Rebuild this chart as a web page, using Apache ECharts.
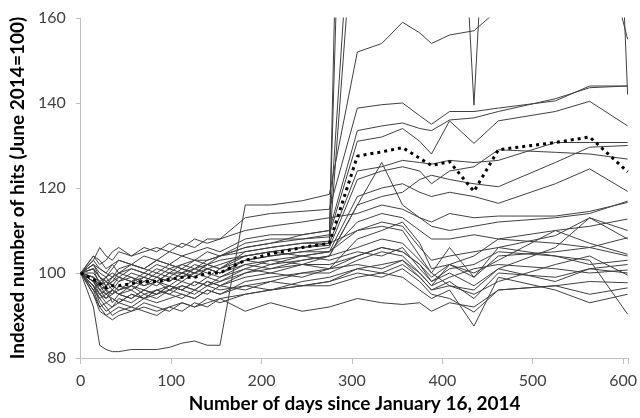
<!DOCTYPE html>
<html>
<head>
<meta charset="utf-8">
<script src="https://cdn.jsdelivr.net/npm/echarts@6/dist/echarts.min.js"></script>
<style>html,body{margin:0;padding:0;background:#fff}#c{width:640px;height:418px}</style>
</head>
<body>
<div id="c"></div>
<script>
var days = [0,14,21,28,35,42,56,70,84,98,112,126,140,154,182,210,245,275,306,333,356,375,388,408,435,462,525,563,605];
var xTicks = [0,100,200,300,400,500,600];
var yTicks = [80,100,120,140,160];

var s01 = [100,92,83,82,81.5,81.5,82,82,82,82.5,83.5,84,83,83,116,116,117,118.5,152,154,159,156.5,154,156,157,162,175,190,155];
var s02 = [100,101,99,98,99,100,101,100,102,101,102,103,103,104,106,107,108,108.5,330,340,335,345,350,340,355,360,350,360,142];
var s03 = [100,97,95,96,97,96,98,99,98,100,100,101,102,101,105,106,107,107.5,400,390,410,380,300,245,139.5,245,300,320,330];
var s04 = [100,103,101,100,102,103,102,104,103,105,104,105,106,105,108,109,109,110,210,230,220,240,235,250,240,260,270,280,290];
var s05 = [100,99,97,98,96,98,99,98,100,99,101,100,102,103,104,105,106,106.5,195,205,200,215,210,220,215,225,230,235,240];
var s06 = [100,104,102,103,105,106,104,105,106,105,107,106,108,108,113,114,114.5,115,138.8,139.6,140,137,135,138,138,138.8,140.5,144,144];
var s07 = [100,98,96,97,99,98,100,99,101,100,102,101,103,104,106,107,109,110,133.5,134.6,135.3,134,133.5,136,136.5,138,141,143.6,144];
var s08 = [100,102,100,99,101,103,102,101,103,102,104,103,105,104,107,108,108,109,131,132,134,131,128,135.8,130.5,135.8,138,140.4,134.6];
var s09 = [100,96,94,95,96,95,97,96,98,97,99,100,99,101,104,105,106,107,124,125,126.5,126,125.6,126.5,126,126.5,130.7,130.7,130.7];
var s10 = [100,99,96,94,95,97,96,98,97,99,98,100,101,100,103,104,105,106,122,124,125,124,121,124,125,129,128.4,128,126.8];
var s11 = [100,95,92,93,94,93,95,94,96,95,97,96,98,97,100,102,103,104,116,118,119,122,123,122,121,120.3,126,129.6,130];
var s12 = [100,97,95,94,96,95,94,96,95,97,96,98,97,99,101,103,104,105,118,120,121,119,118,119,118,116.4,121,124.5,119.2];
var s13 = [100,100,98,97,98,99,98,97,99,98,100,99,101,100,102,101,103,104,116,126,116,113,112,114,113,113.4,113.4,114.5,116.6];
var s14 = [100,98,97,99,100,99,101,100,99,101,100,102,101,102,104,105,104,105,112,114,113,110,108,108,109,108,110,111,112.7];
var s15 = [100,101,99,98,97,99,98,100,99,98,100,99,101,100,103,104,105,105,110,112,111,106,103,104,105,106,108.8,113,110];
var s16 = [100,97,93,91,92,93,92,94,93,94,95,94,96,95,97,98,100,101,108,110,112,107,101,102,104,108,107,106,108.3];
var s17 = [100,99,98,96,95,96,97,95,96,97,96,98,97,98,100,101,102,102,104,106,105,102,99,102,100,103,110,107,104.4];
var s18 = [100,102,101,100,99,101,102,101,103,102,101,103,102,104,105,106,107,107,110,111,110,104,100,97,96,101,106,113,108];
var s19 = [100,103,106,104,103,105,104,106,105,107,106,108,107,108,110,111,112,113,114,116,115,113,111,110,111,112,113,114,116.9];
var s20 = [100,98,95,93,92,94,93,95,94,96,95,94,96,95,98,99,100,100,103,105,104,100,97,99,101,102,101,100,100.7];
var s21 = [100,96,92,90,91,92,91,93,92,91,93,92,94,93,95,96,97,98,101,100,102,99,96,97,95,98,102,104,99.5];
var s22 = [100,99,96,95,94,93,95,94,96,95,94,96,95,97,96,98,97,98,100,99,101,98,95,94,90.8,96,97,98,97.7];
var s23 = [100,95,91,90,89,90,91,92,91,92,93,92,93,94,95,96,97,97,99,100,99,96,94,96,87.5,99,96,93,95];
var s24 = [100,98,97,95,96,95,94,96,95,97,96,95,97,96,97,96,98,99,101,102,103,100,97,102,99,106,104,103,90.3];
var s25 = [100,97,94,92,90,91,92,91,90,92,91,93,92,94,91,93,91,92,94,93,92.6,93,91,93,92,96,97,95,96.5];
var s26 = [100,104,103,101,102,100,102,101,100,102,101,100,102,101,103,102,104,103,105,104,106,101,98,100,97,101,98,101,102];
var s27 = [100,102,99,97,98,100,99,97,98,100,99,101,100,99,102,103,102,104,106,108,107,103,100,106,99,104,105,106,104];
var s28 = [100,101,97,96,93,95,96,94,95,96,97,96,98,97,99,100,99,101,102,101,103,99,96,98,94,100,99,101,100];
var s29 = [100,96,98,99,97,96,97,99,98,96,98,97,99,98,101,100,102,101,104,106,105,102,98,101,102,105,104,102,103];
var avg = [100,98.5,97.5,96.5,97,97,97.5,98,98,98.5,99,99,100,100,103,104.5,106,107,127.5,128.5,129.5,127,125.3,126.2,119.2,129,130.7,132,123.8];

var all = [s01,s02,s03,s04,s05,s06,s07,s08,s09,s10,s11,s12,s13,s14,s15,s16,s17,s18,s19,s20,s21,s22,s23,s24,s25,s26,s27,s28,s29];

function pairs(arr){ return days.map(function(d,i){ return [d, arr[i]]; }); }

var series = all.map(function(a){
  return {type:'line', data:pairs(a), symbol:'none', silent:true, clip:true,
    lineStyle:{color:'#404040', width:1}};
});
series.push({type:'line', data:pairs(avg), symbol:'none', z:5, clip:true,
  lineStyle:{color:'#000', width:3, type:[3,4]}});

var font = 'Lato, "Open Sans", sans-serif';
var chart = echarts.init(document.getElementById('c'));
chart.setOption({
  animation:false,
  grid:{left:77, right:10, top:18, bottom:54, containLabel:false},
  xAxis:{type:'value', min:0, max:606, interval:100,
    name:'Number of days since January 16, 2014', nameLocation:'middle', nameGap:36,
    nameTextStyle:{fontFamily:font, fontWeight:'bold', fontSize:19, color:'#000'},
    axisLine:{lineStyle:{color:'#bfbfbf'}},
    axisTick:{show:true, length:6, lineStyle:{color:'#bfbfbf'}},
    axisLabel:{fontFamily:font, fontSize:16, color:'#404040', margin:15,
      formatter:function(v){ return xTicks.indexOf(v) >= 0 ? String(v) : ''; }},
    splitLine:{show:false}},
  yAxis:{type:'value', min:80, max:160, interval:20,
    name:'Indexed number of hits (June 2014=100)', nameLocation:'middle', nameGap:50,
    nameTextStyle:{fontFamily:font, fontWeight:'bold', fontSize:19, color:'#000'},
    axisLine:{show:true, lineStyle:{color:'#bfbfbf'}},
    axisTick:{show:true, length:5, lineStyle:{color:'#bfbfbf'}},
    axisLabel:{fontFamily:font, fontSize:16, color:'#404040', margin:15,
      formatter:function(v){ return yTicks.indexOf(v) >= 0 ? String(v) : ''; }},
    splitLine:{show:false}},
  series:series
});
</script>
</body>
</html>
